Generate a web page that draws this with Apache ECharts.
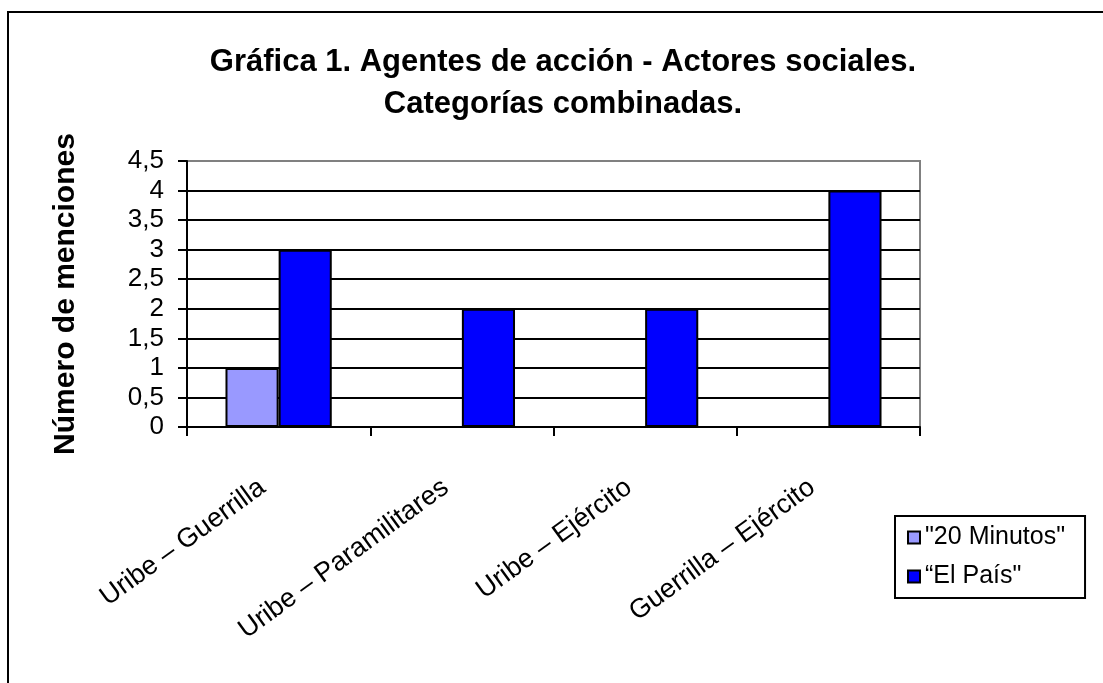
<!DOCTYPE html>
<html>
<head>
<meta charset="utf-8">
<title>Gráfica 1. Agentes de acción - Actores sociales</title>
<script src="https://cdn.jsdelivr.net/npm/echarts@6/dist/echarts.min.js"></script>
<style>
  html, body { margin: 0; padding: 0; background: #ffffff; }
  #chart { width: 1103px; height: 683px; }
</style>
</head>
<body>
<div id="chart"></div>
<script>
// datos de la gráfica
var categories = ['Uribe – Guerrilla', 'Uribe – Paramilitares', 'Uribe – Ejército', 'Guerrilla – Ejército'];
var seriesNames = ['"20 Minutos"', '“El País"'];
var minutos20 = [1, 0, 0, 0];
var elPais = [3, 2, 2, 4];
var yMin = 0;
var yMax = 4.5;
var yStep = 0.5;

var font = 'Liberation Sans, Arial, sans-serif';
var chart = echarts.init(document.getElementById('chart'));

chart.setOption({
  animation: false,
  backgroundColor: '#ffffff',
  // marco exterior (cortado a la derecha y abajo)
  graphic: [{
    type: 'rect',
    shape: { x: 8, y: 12, width: 1200, height: 800 },
    style: { fill: 'none', stroke: '#000000', lineWidth: 2 },
    silent: true
  }],
  title: {
    text: 'Gráfica 1. Agentes de acción - Actores sociales.\nCategorías combinadas.',
    left: 563,
    top: 41,
    textAlign: 'center',
    padding: 0,
    textStyle: {
      fontFamily: font,
      fontSize: 31,
      fontWeight: 'bold',
      color: '#000000',
      lineHeight: 42
    }
  },
  legend: {
    orient: 'vertical',
    left: 895,
    top: 516,
    padding: [9, 20, 9, 12],
    icon: 'rect',
    itemWidth: 12,
    itemHeight: 12,
    itemGap: 14,
    borderColor: '#000000',
    borderWidth: 2,
    backgroundColor: '#ffffff',
    textStyle: { fontFamily: font, fontSize: 25, color: '#000000' },
    data: seriesNames
  },
  grid: {
    left: 187,
    right: 183,
    top: 161,
    bottom: 256,
    containLabel: false,
    outerBoundsMode: 'none',
    show: true,
    borderColor: '#808080',
    borderWidth: 2,
    backgroundColor: '#ffffff'
  },
  xAxis: {
    type: 'category',
    data: categories,
    axisLine: { lineStyle: { color: '#000000', width: 2 } },
    axisTick: { show: true, length: 9, interval: 0, lineStyle: { color: '#000000', width: 2 } },
    axisLabel: {
      interval: 0,
      rotate: 36,
      margin: 46,
      padding: [0, 20, 0, 0],
      fontFamily: font,
      fontSize: 27,
      color: '#000000'
    },
    splitLine: { show: false }
  },
  yAxis: {
    type: 'value',
    min: yMin,
    max: yMax,
    interval: yStep,
    name: 'Número de menciones',
    nameLocation: 'middle',
    nameGap: 106,
    nameRotate: 90,
    nameTextStyle: {
      fontFamily: font,
      fontSize: 30,
      fontWeight: 'bold',
      color: '#000000'
    },
    axisLine: { show: true, lineStyle: { color: '#000000', width: 2 } },
    axisTick: { show: true, length: 9, lineStyle: { color: '#000000', width: 2 } },
    axisLabel: {
      margin: 23,
      fontFamily: font,
      fontSize: 26,
      color: '#000000',
      formatter: function (v) { return String(v).replace('.', ','); }
    },
    splitLine: {
      show: true,
      showMaxLine: false,
      lineStyle: { color: '#000000', width: 2 }
    }
  },
  series: [
    {
      name: seriesNames[0],
      type: 'bar',
      data: minutos20,
      barGap: '0%',
      barCategoryGap: '42%',
      itemStyle: { color: '#9999ff', borderColor: '#000000', borderWidth: 2 }
    },
    {
      name: seriesNames[1],
      type: 'bar',
      data: elPais,
      barGap: '0%',
      barCategoryGap: '42%',
      itemStyle: { color: '#0000ff', borderColor: '#000000', borderWidth: 2 }
    }
  ]
});
</script>
</body>
</html>
